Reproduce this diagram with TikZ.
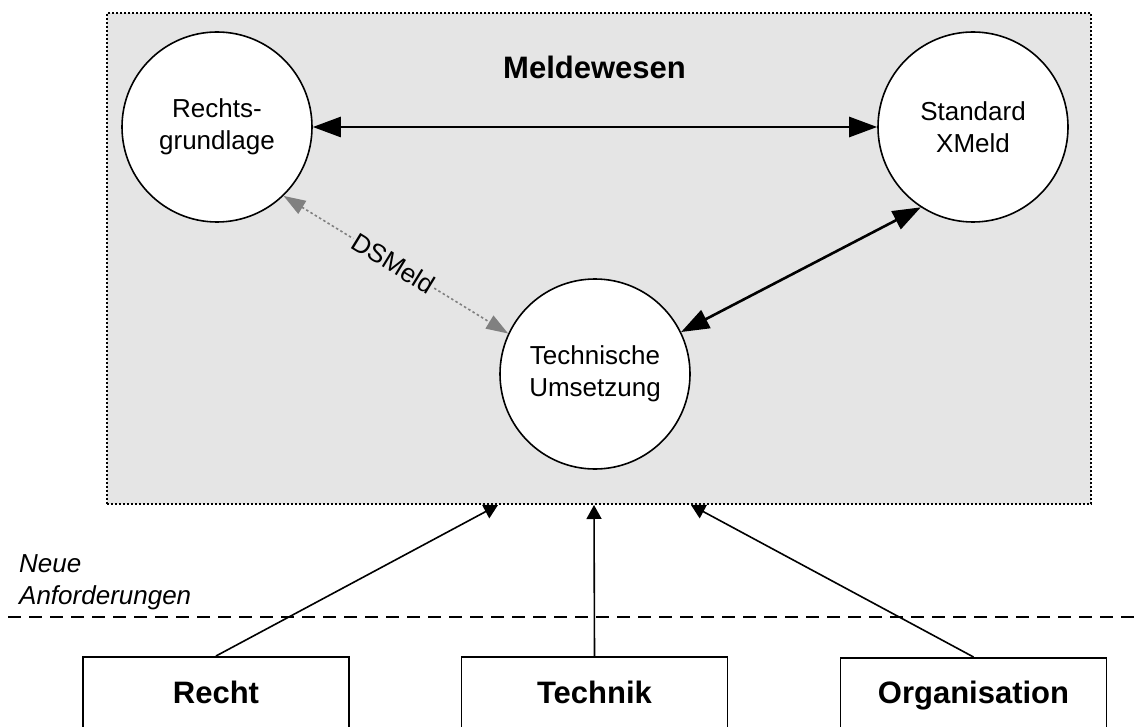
\documentclass[tikz,border=0pt]{standalone}
\usepackage{fontspec}
\setmainfont{Liberation Sans}
\usetikzlibrary{arrows.meta}
\definecolor{boxgray}{HTML}{E5E5E5}
\definecolor{arrgray}{HTML}{808080}
\tikzset{
  circ/.style={circle, draw=black, line width=1.6pt, fill=white, minimum size=190pt, inner sep=0pt, align=center, font=\fontsize{26}{32}\selectfont},
  srcbox/.style={draw=black, line width=1.6pt, fill=white, minimum width=266pt, minimum height=110pt, inner sep=0pt},
  boxlabel/.style={font=\fontsize{31}{36}\selectfont\bfseries},
  bigarrow/.style={line width=2.6pt, {Triangle[length=28pt,width=20pt]}-{Triangle[length=28pt,width=20pt]}},
  grayarrow/.style={draw=arrgray, line width=1.6pt, dash pattern=on 2.5pt off 2.5pt, {Triangle[length=22pt,width=15pt,fill=arrgray]}-{Triangle[length=22pt,width=15pt,fill=arrgray]}},
  inarrow/.style={line width=1.6pt, -{Triangle[length=14pt,width=15pt]}},
  plain/.style={font=\fontsize{26}{32}\selectfont},
}
\begin{document}
\begin{tikzpicture}[x=1pt,y=-1pt]
\useasboundingbox (0,0) rectangle (1134,727);
\clip (0,0) rectangle (1134,727);
\fill[white] (0,0) rectangle (1134,727);
% outer box
\node[draw=black, fill=boxgray, line width=1.6pt, dash pattern=on 2pt off 2pt, minimum width=984pt, minimum height=491pt, inner sep=0pt] (mw) at (599,258.5) {};
\node[boxlabel] (title) at (594.5,67) {Meldewesen};
% circles
\node[circ] (rg) at (217,127) {Rechts-\\grundlage};
\node[circ] (std) at (973,127) {Standard\\XMeld};
\node[circ] (tu) at (595,374) {Technische\\Umsetzung};
% connectors inside
\draw[bigarrow] (rg.east) -- (std.west);
\draw[bigarrow] (tu.26) -- (std.237);
\draw[grayarrow] (rg.314) -- node[pos=0.49, sloped, fill=boxgray, inner sep=1pt, text=black, plain] (dsm) {DSMeld} (tu.155);
% dashed separator
\coordinate (dl) at (8,617);
\coordinate (dr) at (1134,617);
\draw[line width=1.6pt, dash pattern=on 13pt off 8pt] (dl) -- (dr);
\node[plain, font=\fontsize{26}{32}\selectfont\itshape, anchor=base west, inner sep=0pt] (na1) at (19,572) {Neue};
\node[plain, font=\fontsize{26}{32}\selectfont\itshape, anchor=base west, inner sep=0pt] (na2) at (19,604) {Anforderungen};
% bottom boxes
\node[srcbox, anchor=north] (recht) at (216,656) {};
\node[srcbox, anchor=north] (technik) at (594.5,656) {};
\node[srcbox, anchor=north] (orga) at (973.5,657) {};
\node[boxlabel, anchor=base] (rechtl) at (216,703) {Recht};
\node[boxlabel, anchor=base] (technikl) at (594.5,703) {Technik};
\node[boxlabel, anchor=base] (orgal) at (973.5,703) {Organisation};
% incoming arrows
\coordinate (t1) at (498,505);
\coordinate (t2) at (594,505);
\coordinate (t3) at (691,505);
\draw[inarrow] (recht.north) -- (t1);
\draw[inarrow] (technik.north) -- (t2);
\draw[inarrow] (orga.north) -- (t3);
\end{tikzpicture}
\end{document}
